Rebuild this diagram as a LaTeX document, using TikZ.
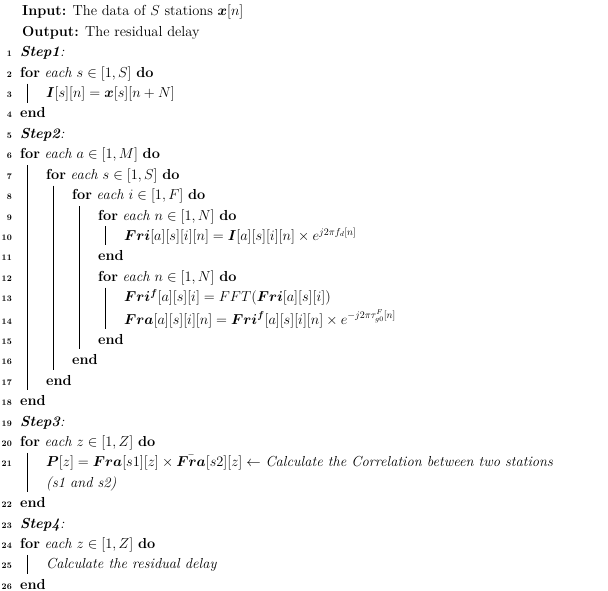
\documentclass[tikz,border=0pt]{standalone}
\usepackage{amsmath,amssymb,bm}
\begin{document}
\begin{tikzpicture}[x=1pt,y=-1pt,
  ln/.style={anchor=base east,font=\fontsize{8.5}{10}\selectfont\bfseries,inner sep=0},
  tx/.style={anchor=base west,inner sep=0,font=\fontsize{14.5}{16}\selectfont},
  bar/.style={line width=0.5pt}]
\useasboundingbox (0,0) rectangle (608,591);
% row index, level, line number, text
\newcommand\Lx[5]{%
  \node[tx] (t#1) at ({20+26*#2},{16+20.4*(#3)}) {#5};
  \ifx\relax#4\relax\else\node[ln] (n#1) at (12,{16+20.4*(#3)}) {#4};\fi}
\newcommand\VBar[3]{% level, from row, to row
  \draw[bar] ({27+26*#1},{16+20.4*(#2)-14}) -- ({27+26*#1},{16+20.4*(#3)+5});}
\node[tx] (in) at (22,16) {\textbf{Input:} The data of $S$ stations $\bm{x}[n]$};
\node[tx] (out) at (22,36.4) {\textbf{Output:} The residual delay};
\Lx{a}{0}{2}{1}{\textit{\textbf{Step1}:}}
\Lx{b}{0}{3}{2}{\textbf{for} \textit{each $s\in[1,S]$} \textbf{do}}
\Lx{c}{1}{4}{3}{$\bm{I}[s][n]=\bm{x}[s][n+N]$}
\Lx{d}{0}{5}{4}{\textbf{end}}
\Lx{e}{0}{6}{5}{\textit{\textbf{Step2}:}}
\Lx{f}{0}{7}{6}{\textbf{for} \textit{each $a\in[1,M]$} \textbf{do}}
\Lx{g}{1}{8}{7}{\textbf{for} \textit{each $s\in[1,S]$} \textbf{do}}
\Lx{h}{2}{9}{8}{\textbf{for} \textit{each $i\in[1,F]$} \textbf{do}}
\Lx{i}{3}{10}{9}{\textbf{for} \textit{each $n\in[1,N]$} \textbf{do}}
\Lx{j}{4}{11}{10}{$\bm{Fri}[a][s][i][n]=\bm{I}[a][s][i][n]\times e^{j2\pi f_d[n]}$}
\Lx{k}{3}{12}{11}{\textbf{end}}
\Lx{l}{3}{13}{12}{\textbf{for} \textit{each $n\in[1,N]$} \textbf{do}}
\Lx{m}{4}{14}{13}{$\bm{Fri}^{\bm f}[a][s][i]=FFT(\bm{Fri}[a][s][i])$}
\Lx{o}{4}{15.1}{14}{$\bm{Fra}[a][s][i][n]=\bm{Fri}^{\bm f}[a][s][i][n]\times e^{-j2\pi\tau^F_{g0}[n]}$}
\Lx{p}{3}{16.1}{15}{\textbf{end}}
\Lx{q}{2}{17.1}{16}{\textbf{end}}
\Lx{r}{1}{18.1}{17}{\textbf{end}}
\Lx{s}{0}{19.1}{18}{\textbf{end}}
\Lx{t}{0}{20.1}{19}{\textit{\textbf{Step3}:}}
\Lx{u}{0}{21.1}{20}{\textbf{for} \textit{each $z\in[1,Z]$} \textbf{do}}
\Lx{v}{1}{22.1}{21}{$\bm{P}[z]=\bm{Fra}[s1][z]\times \bar{\bm{Fra}}[s2][z]\leftarrow$ \textit{Calculate the Correlation between two stations}}
\Lx{w}{1}{23.1}{}{\textit{(s1 and s2)}}
\Lx{x}{0}{24.1}{22}{\textbf{end}}
\Lx{y}{0}{25.1}{23}{\textit{\textbf{Step4}:}}
\Lx{z}{0}{26.1}{24}{\textbf{for} \textit{each $z\in[1,Z]$} \textbf{do}}
\Lx{A}{1}{27.1}{25}{\textit{Calculate the residual delay}}
\Lx{B}{0}{28.1}{26}{\textbf{end}}
\VBar{0}{4}{4}
\VBar{0}{8}{18.1}
\VBar{1}{9}{17.1}
\VBar{2}{10}{16.1}
\VBar{3}{11}{11}
\VBar{3}{14}{15.1}
\VBar{0}{22.1}{23.1}
\VBar{0}{27.1}{27.1}
\end{tikzpicture}
\end{document}
